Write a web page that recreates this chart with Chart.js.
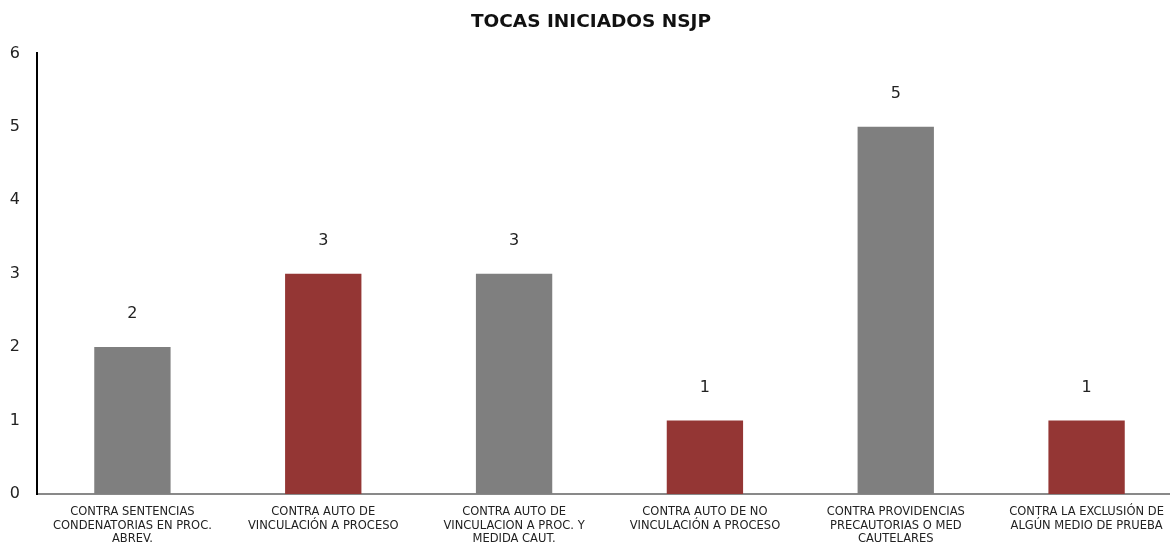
<!DOCTYPE html>
<html lang="es">
<head>
<meta charset="UTF-8">
<title>Tocas iniciados NSJP</title>
<script src="https://cdn.jsdelivr.net/npm/chart.js"></script>
<style>
  html, body { margin: 0; padding: 0; background: #fff; overflow: hidden; }
  #wrap { width: 1182px; height: 546px; }
</style>
</head>
<body>
<div id="wrap"><canvas id="chartCanvas"></canvas></div>
<script>
const categories = [
  ["CONTRA SENTENCIAS", "CONDENATORIAS EN PROC.", "ABREV."],
  ["CONTRA AUTO DE", "VINCULACIÓN A PROCESO"],
  ["CONTRA AUTO DE", "VINCULACION A PROC. Y", "MEDIDA CAUT."],
  ["CONTRA AUTO DE NO", "VINCULACIÓN A PROCESO"],
  ["CONTRA PROVIDENCIAS", "PRECAUTORIAS O MED", "CAUTELARES"],
  ["CONTRA LA EXCLUSIÓN DE", "ALGÚN MEDIO DE PRUEBA"]
];
const values = [2, 3, 3, 1, 5, 1];
const barColors = ["#7f7f7f", "#943634", "#7f7f7f", "#943634", "#7f7f7f", "#943634"];
const yTicks = [0, 1, 2, 3, 4, 5, 6];

const FONT = "'DejaVu Sans', sans-serif";

// simple value labels above each bar
const valueLabels = {
  id: "valueLabels",
  afterDatasetsDraw(chart) {
    const ctx = chart.ctx;
    const meta = chart.getDatasetMeta(0);
    ctx.save();
    ctx.font = "16px " + FONT;
    ctx.fillStyle = "#222";
    ctx.textAlign = "center";
    ctx.textBaseline = "middle";
    meta.data.forEach((bar, i) => {
      ctx.fillText(String(values[i]), bar.x, bar.y - 33);
    });
    ctx.restore();
  }
};

new Chart(document.getElementById("chartCanvas"), {
  type: "bar",
  data: {
    labels: categories,
    datasets: [{
      data: values,
      backgroundColor: barColors,
      barPercentage: 0.4,
      categoryPercentage: 1
    }]
  },
  options: {
    responsive: true,
    maintainAspectRatio: false,
    animation: false,
    layout: { padding: 0 },
    plugins: {
      legend: { display: false },
      tooltip: { enabled: false },
      title: {
        display: true,
        text: "TOCAS INICIADOS NSJP",
        color: "#111",
        font: { family: FONT, size: 18.5, weight: "bold", lineHeight: 1.1 },
        padding: { top: 12, bottom: 21 }
      }
    },
    scales: {
      x: {
        grid: { display: false },
        border: { display: true, color: "#898989", width: 2 },
        ticks: {
          color: "#222",
          font: { family: FONT, size: 11.5, lineHeight: 1.2 },
          maxRotation: 0,
          autoSkip: false,
          padding: 3
        },
        afterFit(scale) { scale.height = 52; }
      },
      y: {
        min: 0,
        max: 6,
        afterBuildTicks(scale) { scale.ticks = yTicks.map(v => ({ value: v })); },
        grid: { display: false },
        border: { display: true, color: "#000", width: 2 },
        ticks: {
          color: "#222",
          font: { family: FONT, size: 16 },
          padding: 9
        },
        afterFit(scale) { scale.width = 37; }
      }
    }
  },
  plugins: [valueLabels]
});
</script>
</body>
</html>
